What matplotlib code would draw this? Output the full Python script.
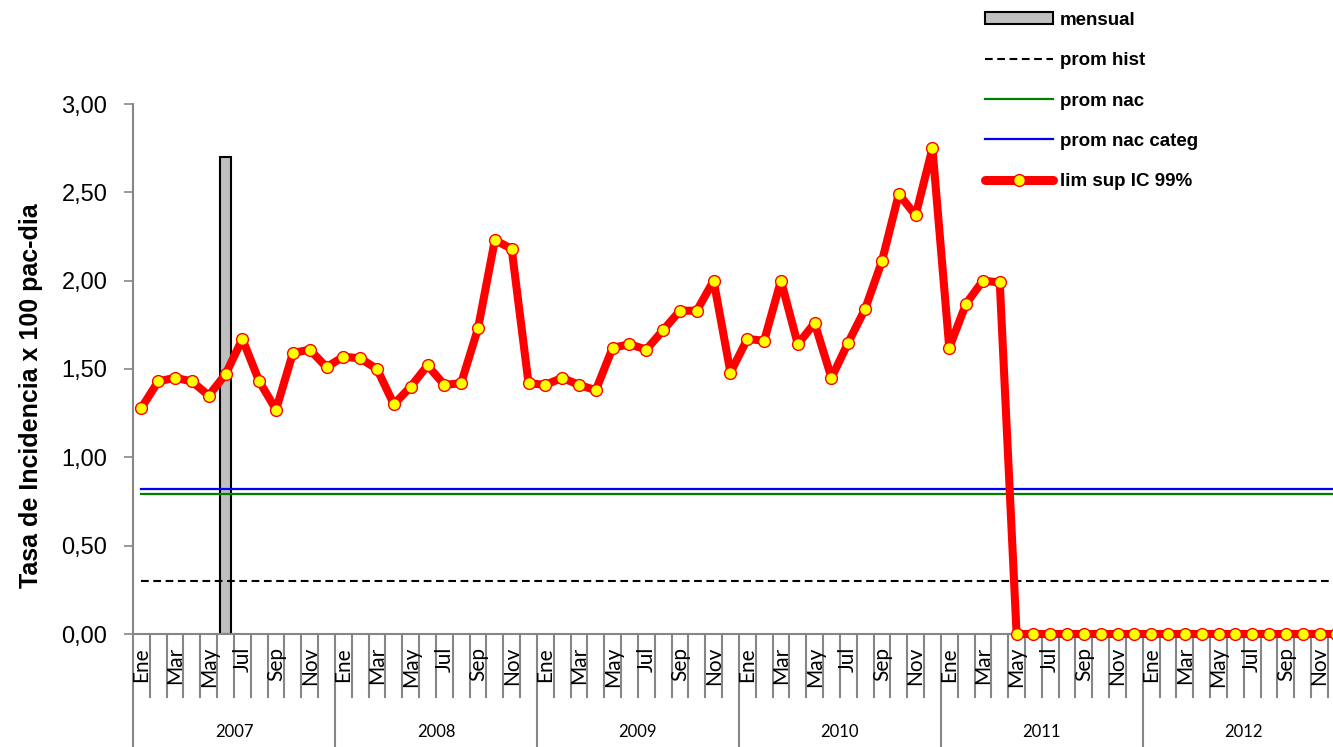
import numpy as np
import matplotlib
matplotlib.use("Agg")
import matplotlib.pyplot as plt
from matplotlib.lines import Line2D
from matplotlib.patches import Patch
from matplotlib.ticker import FuncFormatter
import matplotlib.transforms as mtransforms

# ---------------- data ----------------
years = ["2007", "2008", "2009", "2010", "2011", "2012"]
months = ["Ene", "Feb", "Mar", "Abr", "May", "Jun", "Jul", "Ago", "Sep", "Oct", "Nov", "Dic"]

lim_sup_2007 = [1.28, 1.43, 1.45, 1.43, 1.35, 1.47, 1.67, 1.43, 1.27, 1.59, 1.61, 1.51]
lim_sup_2008 = [1.57, 1.56, 1.50, 1.30, 1.40, 1.52, 1.41, 1.42, 1.73, 2.23, 2.18, 1.42]
lim_sup_2009 = [1.41, 1.45, 1.41, 1.38, 1.62, 1.64, 1.61, 1.72, 1.83, 1.83, 2.00, 1.48]
lim_sup_2010 = [1.67, 1.66, 2.00, 1.64, 1.76, 1.45, 1.65, 1.84, 2.11, 2.49, 2.37, 2.75]
lim_sup_2011 = [1.62, 1.87, 2.00, 1.99, 0.00, 0.00, 0.00, 0.00, 0.00, 0.00, 0.00, 0.00]
lim_sup_2012 = [0.00, 0.00, 0.00, 0.00, 0.00, 0.00, 0.00, 0.00, 0.00, 0.00, 0.00, 0.00]

nan = np.nan
mensual_2007 = [nan, nan, nan, nan, nan, 2.70, nan, nan, nan, nan, nan, nan]
mensual_other = [nan] * 60  # no monthly values reported 2008-2012

prom_hist = 0.30
prom_nac = 0.79
prom_nac_categ = 0.82

lim_sup = np.array(lim_sup_2007 + lim_sup_2008 + lim_sup_2009 + lim_sup_2010 + lim_sup_2011 + lim_sup_2012)
mensual = np.array(mensual_2007 + mensual_other)
n = len(lim_sup)
x = np.arange(n)

# ---------------- figure ----------------
W, H = 1333, 747
fig = plt.figure(figsize=(W / 100, H / 100), dpi=100)
ax = fig.add_axes([133 / W, (H - 634) / H, 1200 / W, 530 / H])

GRAY = "#868686"
BOLD_FAM = ["Liberation Sans", "DejaVu Sans"]

ax.bar(x, mensual, width=0.68, color="#C0C0C0", edgecolor="black", linewidth=1.5, zorder=1)
ax.plot(x, [prom_hist] * n, color="black", linestyle=(0, (3.7, 2.2)), linewidth=1.5, zorder=2)
ax.plot(x, [prom_nac] * n, color="#008000", linewidth=1.6, zorder=2)
ax.plot(x, [prom_nac_categ] * n, color="#0000FF", linewidth=1.6, zorder=2)
ax.plot(x, lim_sup, color="#FF0000", linewidth=5.8, marker="o", markersize=8.5,
        markerfacecolor="#FFFF00", markeredgecolor="#FF0000", markeredgewidth=1.0,
        zorder=3, clip_on=False, solid_joinstyle="round", solid_capstyle="round")

ax.set_xlim(-0.5, 70.8)
ax.set_ylim(0, 3.0)
ax.set_yticks(np.arange(0, 3.01, 0.5))
ax.yaxis.set_major_formatter(FuncFormatter(lambda v, p: f"{v:.2f}".replace(".", ",")))
ax.tick_params(axis="y", direction="out", length=6.5, width=1.2, color=GRAY, pad=12,
               labelsize=17)
for lab in ax.get_yticklabels():
    lab.set_fontfamily(["Liberation Sans", "DejaVu Sans"])

for s in ["top", "right"]:
    ax.spines[s].set_visible(False)
for s in ["left", "bottom"]:
    ax.spines[s].set_color(GRAY)
    ax.spines[s].set_linewidth(1.5)

ax.set_xticks([])

# category separators and labels
trans = mtransforms.blended_transform_factory(ax.transData, ax.transAxes)
for b in range(n + 1):
    xb = b - 0.5
    if xb > 70.8:
        continue
    ylow = -0.25 if b % 12 == 0 else -63 / 530
    ax.add_line(Line2D([xb, xb], [0, ylow], transform=trans, color=GRAY, linewidth=1.5,
                       clip_on=False))

for i in range(n):
    if i % 2 == 0:
        ax.text(i, -13 / 530, months[i % 12], transform=trans, rotation=90, ha="center",
                va="top", fontsize=15, family=["Lato", "DejaVu Sans"], color="black")

for k, yr in enumerate(years):
    ax.text(k * 12 + 5.5, -98 / 530, yr, transform=trans, ha="center", va="center",
            fontsize=12, family=["Lato", "DejaVu Sans"], color="black")

# y label
fig.text(31 / W, 1 - 396 / H, "Tasa de Incidencia x 100 pac-dia", rotation=90,
         ha="center", va="center", fontsize=18, fontweight="bold", family=BOLD_FAM)

# legend
handles = [
    Patch(facecolor="#C0C0C0", edgecolor="black", linewidth=1.5),
    Line2D([], [], color="black", linestyle=(0, (3.7, 2.2)), linewidth=1.5),
    Line2D([], [], color="#008000", linewidth=1.6),
    Line2D([], [], color="#0000FF", linewidth=1.6),
    Line2D([], [], color="#FF0000", linewidth=6.5, marker="o", markersize=8.5,
           markerfacecolor="#FFFF00", markeredgecolor="#FF0000", markeredgewidth=1.0,
           solid_capstyle="round"),
]
labels = ["mensual", "prom hist", "prom nac", "prom nac categ", "lim sup IC 99%"]
fig.legend(handles, labels, loc="upper left", bbox_to_anchor=(985 / W, 1 - 12 / H),
           frameon=False, borderpad=0, borderaxespad=0, handlelength=3.63,
           handleheight=0.62, handletextpad=0.37, labelspacing=1.24, numpoints=1,
           prop={"family": BOLD_FAM, "weight": "bold", "size": 13.5})

fig.savefig("out.png", dpi=100)
